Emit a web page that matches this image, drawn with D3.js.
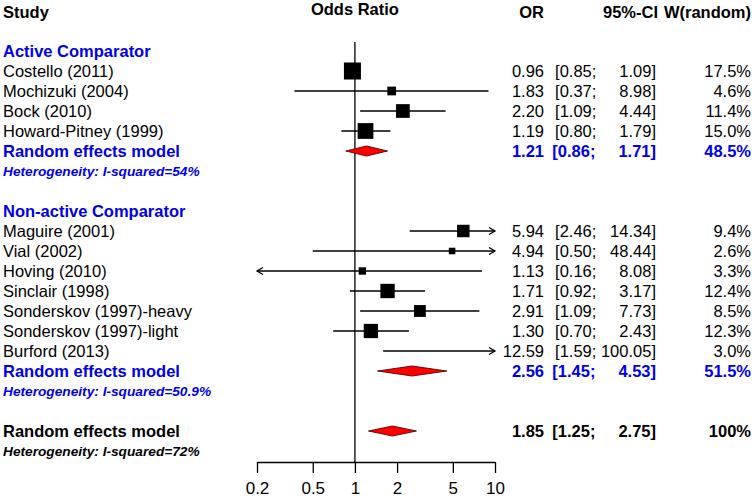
<!DOCTYPE html>
<html>
<head>
<meta charset="utf-8">
<script src="https://cdn.jsdelivr.net/npm/d3@7"></script>
<style>
  html, body { margin: 0; padding: 0; background: #fff; }
  svg text { font-family: "Liberation Sans", Arial, sans-serif; white-space: pre; }
</style>
</head>
<body>
<svg id="chart" width="752" height="500"></svg>
<script>
// ---------------- data ----------------
const columnHeaders = ["Study", "Odds Ratio", "OR", "95%-CI", "W(random)"];
const groupNames = ["Active Comparator", "Non-active Comparator"];

const studyLabels = ["Costello (2011)", "Mochizuki (2004)", "Bock (2010)", "Howard-Pitney (1999)",
  "Maguire (2001)", "Vial (2002)", "Hoving (2010)", "Sinclair (1998)",
  "Sonderskov (1997)-heavy", "Sonderskov (1997)-light", "Burford (2013)"];
const studyGroup = [0, 0, 0, 0, 1, 1, 1, 1, 1, 1, 1];
const studyOR = [0.96, 1.83, 2.20, 1.19, 5.94, 4.94, 1.13, 1.71, 2.91, 1.30, 12.59];
const studyLower = [0.85, 0.37, 1.09, 0.80, 2.46, 0.50, 0.16, 0.92, 1.09, 0.70, 1.59];
const studyUpper = [1.09, 8.98, 4.44, 1.79, 14.34, 48.44, 8.08, 3.17, 7.73, 2.43, 100.05];
const studyWeight = [17.5, 4.6, 11.4, 15.0, 9.4, 2.6, 3.3, 12.4, 8.5, 12.3, 3.0];

const groupOR = [1.21, 2.56];
const groupLower = [0.86, 1.45];
const groupUpper = [1.71, 4.53];
const groupWeight = [48.5, 51.5];
const groupI2 = ["54%", "50.9%"];

const overallOR = 1.85, overallLower = 1.25, overallUpper = 2.75, overallWeight = 100, overallI2 = "72%";

const axisTicks = [0.2, 0.5, 1, 2, 5, 10];

// ---------------- layout ----------------
const svg = d3.select("#chart");
const BLUE = "#0000e6";
const FS = 16.5;

const x = d3.scaleLog().domain([0.2, 10]).range([257, 495]);
const rowY = d3.scaleLinear().domain([0, 20]).range([51, 451]);
const sq = d3.scaleSqrt().domain([0, 17.5]).range([0, 17]);

const colOR = 544, colCI = 656, colW = 751, colLabel = 3;
const fmtW = w => w === 100 ? "100%" : w.toFixed(1) + "%";
const fmtCI = (lo, up) => "[" + lo.toFixed(2).padStart(4, "\u2007") + "; " + up.toFixed(2).padStart(6, "\u2007") + "]";

// build rows
const rows = [];
let r = 0;
groupNames.forEach((g, gi) => {
  rows.push({type: "group", label: g, row: r++});
  studyLabels.forEach((s, i) => {
    if (studyGroup[i] === gi) rows.push({type: "study", label: s, or: studyOR[i], lo: studyLower[i], up: studyUpper[i], w: studyWeight[i], row: r++});
  });
  rows.push({type: "sub", label: "Random effects model", or: groupOR[gi], lo: groupLower[gi], up: groupUpper[gi], w: groupWeight[gi], row: r++, color: BLUE});
  rows.push({type: "het", label: "Heterogeneity: I-squared=" + groupI2[gi], row: r++, color: BLUE});
  r++;
});
rows.push({type: "sub", label: "Random effects model", or: overallOR, lo: overallLower, up: overallUpper, w: overallWeight, row: r++, color: "#000"});
rows.push({type: "het", label: "Heterogeneity: I-squared=" + overallI2, row: r++, color: "#000"});

// headers
const hdr = svg.append("g").attr("font-weight", "bold").attr("font-size", FS);
hdr.append("text").attr("x", colLabel).attr("y", 18).text(columnHeaders[0]);
hdr.append("text").attr("x", x(1)).attr("y", 15).attr("text-anchor", "middle").text(columnHeaders[1]);
hdr.append("text").attr("x", colOR).attr("y", 18).attr("text-anchor", "end").text(columnHeaders[2]);
hdr.append("text").attr("x", colCI + 2).attr("y", 18).attr("text-anchor", "end").text(columnHeaders[3]);
hdr.append("text").attr("x", colW).attr("y", 18).attr("text-anchor", "end").text(columnHeaders[4]);

// reference line at OR = 1
svg.append("line").attr("x1", x(1)).attr("x2", x(1)).attr("y1", 42).attr("y2", 462)
  .attr("stroke", "#000").attr("stroke-width", 1.3);

// labels
rows.forEach(d => {
  const y = rowY(d.row);
  const t = svg.append("text").attr("x", colLabel).attr("y", y + 6).text(d.label);
  if (d.type === "group") t.attr("font-size", FS).attr("font-weight", "bold").attr("fill", BLUE);
  else if (d.type === "study") t.attr("font-size", FS).attr("fill", "#000");
  else if (d.type === "sub") t.attr("font-size", FS).attr("font-weight", "bold").attr("fill", d.color);
  else if (d.type === "het") t.attr("font-size", 13.7).attr("font-weight", "bold").attr("font-style", "italic").attr("fill", d.color).attr("y", y + 5);

  if (d.type === "study" || d.type === "sub") {
    const g = svg.append("g").attr("font-size", FS).attr("fill", d.type === "sub" ? d.color : "#000")
      .attr("font-weight", d.type === "sub" ? "bold" : "normal");
    g.append("text").attr("x", colOR).attr("y", y + 6).attr("text-anchor", "end").text(d.or.toFixed(2));
    g.append("text").attr("x", colCI).attr("y", y + 6).attr("text-anchor", "end").text(fmtCI(d.lo, d.up));
    g.append("text").attr("x", colW).attr("y", y + 6).attr("text-anchor", "end").text(fmtW(d.w));
  }
});

// marks
const [dMin, dMax] = x.domain();
rows.filter(d => d.type === "study").forEach(d => {
  const y = rowY(d.row);
  const x1 = x(Math.max(d.lo, dMin)), x2 = x(Math.min(d.up, dMax));
  svg.append("line").attr("x1", x1).attr("x2", x2).attr("y1", y).attr("y2", y)
    .attr("stroke", "#000").attr("stroke-width", 1.3);
  if (d.lo < dMin) {
    svg.append("path").attr("d", `M${x1 + 6},${y - 3.5}L${x1},${y}L${x1 + 6},${y + 3.5}`)
      .attr("fill", "none").attr("stroke", "#000").attr("stroke-width", 1.3);
  }
  if (d.up > dMax) {
    svg.append("path").attr("d", `M${x2 - 6},${y - 3.5}L${x2},${y}L${x2 - 6},${y + 3.5}`)
      .attr("fill", "none").attr("stroke", "#000").attr("stroke-width", 1.3);
  }
  if (d.or >= dMin && d.or <= dMax) {
    const s = sq(d.w);
    svg.append("rect").attr("x", x(d.or) - s / 2).attr("y", y - s / 2).attr("width", s).attr("height", s).attr("fill", "#000");
  }
});

rows.filter(d => d.type === "sub").forEach(d => {
  const y = rowY(d.row);
  const pts = [[x(d.lo), y], [x(d.or), y - 5], [x(d.up), y], [x(d.or), y + 5]];
  svg.append("path").attr("d", d3.line()(pts) + "Z").attr("fill", "#ff0000")
    .attr("stroke", "#5a0000").attr("stroke-width", 0.9);
});

// axis
const axisY = 462;
const axis = d3.axisBottom(x).tickValues(axisTicks).tickFormat(d => String(d)).tickSize(11).tickSizeOuter(0);
const ag = svg.append("g").attr("transform", `translate(0,${axisY})`).call(axis);
ag.select(".domain").attr("stroke", "#000").attr("stroke-width", 1.3);
ag.selectAll(".tick line").attr("stroke", "#000").attr("stroke-width", 1.3);
ag.selectAll(".tick text").attr("font-size", 17).attr("font-family", "Liberation Sans, Arial, sans-serif")
  .attr("fill", "#000").attr("y", 20).attr("dy", "0.71em");
</script>
</body>
</html>
